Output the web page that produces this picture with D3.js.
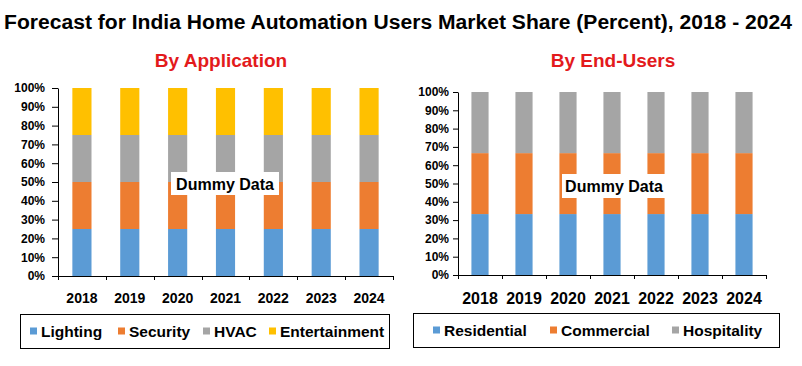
<!DOCTYPE html>
<html>
<head>
<meta charset="utf-8">
<script src="https://cdn.jsdelivr.net/npm/d3@7"></script>
<style>
body{margin:0;background:#fff;}
svg{display:block;font-family:"Liberation Sans",Arial,sans-serif;font-weight:bold;}
</style>
</head>
<body>
<svg id="chart" width="802" height="366"></svg>
<script>
// datos del grafico
var years = ["2018","2019","2020","2021","2022","2023","2024"];
var yTicks = [0,10,20,30,40,50,60,70,80,90,100];

var appNames = ["Lighting","Security","HVAC","Entertainment"];
var lighting      = [25,25,25,25,25,25,25];
var security      = [25,25,25,25,25,25,25];
var hvac          = [25,25,25,25,25,25,25];
var entertainment = [25,25,25,25,25,25,25];

var userNames = ["Residential","Commercial","Hospitality"];
var residential = [33.3,33.3,33.3,33.3,33.3,33.3,33.3];
var commercial  = [33.3,33.3,33.3,33.3,33.3,33.3,33.3];
var hospitality = [33.4,33.4,33.4,33.4,33.4,33.4,33.4];

var colores = ["#5B9BD5","#ED7D31","#A5A5A5","#FFC000"];

var svg = d3.select("#chart");

// titulo
svg.append("text")
	.attr("x", 4).attr("y", 29)
	.attr("font-size", "19.5px")
	.attr("textLength", 788)
	.attr("lengthAdjust", "spacingAndGlyphs")
	.attr("fill", "#000")
	.text("Forecast for India Home Automation Users Market Share (Percent), 2018 - 2024");

function dibujar(cfg){
	var g = svg.append("g");
	var rows = years.map(function(y, i){
		var r = {year: y};
		cfg.names.forEach(function(n, k){ r[n] = cfg.series[k][i]; });
		return r;
	});
	var stack = d3.stack().keys(cfg.names)(rows);

	var x = d3.scaleBand().domain(years).range([cfg.x0, cfg.x1])
		.paddingInner(cfg.pad).paddingOuter(cfg.pad/2);
	var y = d3.scaleLinear().domain([0,100]).range([cfg.y0, cfg.y1]);

	// subtitulo
	g.append("text")
		.attr("x", cfg.subX).attr("y", 67)
		.attr("text-anchor", "middle")
		.attr("font-size", "19px")
		.attr("fill", "#E31A1C")
		.text(cfg.sub);

	// barras
	stack.forEach(function(s, k){
		g.selectAll(null).data(s).enter().append("rect")
			.attr("x", function(d){ return x(d.data.year); })
			.attr("y", function(d){ return y(d[1]); })
			.attr("width", x.bandwidth())
			.attr("height", function(d){ return y(d[0]) - y(d[1]); })
			.attr("fill", colores[k]);
	});

	// eje y
	var ay = g.append("g").attr("transform", "translate(" + cfg.x0 + ",0)")
		.call(d3.axisLeft(y).tickValues(yTicks).tickSize(cfg.tick).tickSizeOuter(0)
			.tickFormat(function(d){ return d + "%"; }));
	ay.selectAll("text").attr("font-size", "12px").attr("font-family", null)
		.attr("font-weight", "bold").attr("fill", "#000").attr("x", -cfg.labOff);
	ay.selectAll("line,path").attr("stroke", "#000");

	// eje x (marcas entre categorias)
	var step = x.step();
	var bounds = years.map(function(d){ return x(d) - (step - x.bandwidth())/2; });
	bounds.push(cfg.x1);
	g.append("line").attr("x1", cfg.x0).attr("x2", cfg.x1)
		.attr("y1", cfg.y0 + 0.5).attr("y2", cfg.y0 + 0.5).attr("stroke", "#000");
	g.selectAll(null).data(bounds).enter().append("line")
		.attr("x1", function(d){ return Math.round(d) + 0.5; })
		.attr("x2", function(d){ return Math.round(d) + 0.5; })
		.attr("y1", cfg.y0).attr("y2", cfg.y0 + 4).attr("stroke", "#000");
	g.selectAll(null).data(years).enter().append("text")
		.attr("x", function(d){ return x(d) + x.bandwidth()/2; })
		.attr("y", cfg.labY)
		.attr("text-anchor", "middle")
		.attr("font-size", cfg.labSize)
		.attr("fill", "#000")
		.text(function(d){ return d; });

	// marca de agua
	var w = cfg.dummy;
	g.append("rect").attr("x", w[0]).attr("y", w[1]).attr("width", w[2]).attr("height", w[3])
		.attr("fill", "#fff");
	g.append("text").attr("x", w[0] + w[2]/2).attr("y", w[1] + w[3]/2 + 6)
		.attr("text-anchor", "middle").attr("font-size", "16px").attr("fill", "#000")
		.text("Dummy Data");

	// leyenda
	var L = cfg.legend;
	g.append("rect").attr("x", L.x + 0.5).attr("y", L.y + 0.5).attr("width", L.w).attr("height", L.h)
		.attr("fill", "none").attr("stroke", "#000");
	cfg.names.forEach(function(n, k){
		g.append("rect").attr("x", L.items[k]).attr("y", L.y + L.h/2 - 3.5)
			.attr("width", 7).attr("height", 7).attr("fill", colores[k]);
		g.append("text").attr("x", L.items[k] + 11).attr("y", L.y + L.h/2 + 5.5)
			.attr("font-size", "15.5px").attr("fill", "#000").text(n);
	});
}

dibujar({
	names: appNames,
	series: [lighting, security, hvac, entertainment],
	x0: 58, x1: 393, y0: 276, y1: 88, pad: 0.6,
	tick: 6, labOff: 13,
	sub: "By Application", subX: 221,
	labY: 303, labSize: "14px",
	dummy: [171, 172, 108, 23],
	legend: {x: 20, y: 314, w: 369, h: 34, items: [30, 118, 203, 269]}
});

dibujar({
	names: userNames,
	series: [residential, commercial, hospitality],
	x0: 458, x1: 766, y0: 275, y1: 92, pad: 0.61,
	tick: 5, labOff: 9,
	sub: "By End-Users", subX: 613,
	labY: 304, labSize: "16px",
	dummy: [562, 174, 104, 24],
	legend: {x: 413, y: 313, w: 366, h: 34, items: [433, 550, 672]}
});
</script>
</body>
</html>
